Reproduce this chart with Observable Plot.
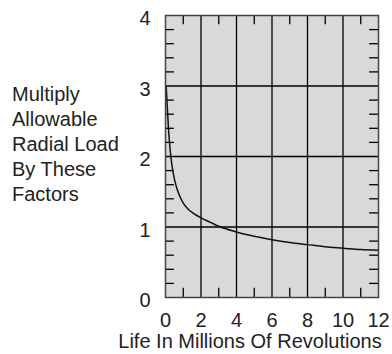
<!DOCTYPE html>
<html>
<head>
<meta charset="utf-8">
<script src="https://cdn.jsdelivr.net/npm/d3@7"></script>
<script src="https://cdn.jsdelivr.net/npm/@observablehq/plot@0.6"></script>
<style>
  html, body { margin: 0; padding: 0; background: #fff; }
  #chart { width: 392px; height: 354px; }
</style>
</head>
<body>
<div id="chart"></div>
<script>
// Data
const life   = [0.04, 0.1, 0.2, 0.3, 0.43, 0.6, 0.8, 1.0, 1.25, 1.6, 2.0, 2.5, 3.0, 4.0, 5.0, 6.0, 7.0, 8.0, 9.0, 10.0, 11.0, 12.0];
const factor = [3.0, 2.7, 2.28, 2.0, 1.77, 1.58, 1.44, 1.34, 1.26, 1.19, 1.13, 1.07, 1.01, 0.93, 0.87, 0.82, 0.78, 0.75, 0.72, 0.70, 0.68, 0.67];
const xTicks = [0, 2, 4, 6, 8, 10, 12];
const yTicks = [0, 1, 2, 3, 4];
const xGrid = [2, 4, 6, 8, 10];
const yGrid = [1, 2, 3];
const xMinor = [1, 3, 5, 7, 9, 11];
const yMinor = [0.2, 0.4, 0.6, 0.8, 1.2, 1.4, 1.6, 1.8, 2.2, 2.4, 2.6, 2.8, 3.2, 3.4, 3.6, 3.8];
const yTitleLines = ["Multiply", "Allowable", "Radial Load", "By These", "Factors"];
const xTitle = "Life In Millions Of Revolutions";

const data = life.map((x, i) => ({x, y: factor[i]}));

const font = "'Liberation Sans', Arial, Helvetica, sans-serif";
const tx = 0.5, ty = 0.13; // minor tick length in data units
const fmt = d3.format("d");

const svg = Plot.plot({
  width: 392,
  height: 354,
  marginLeft: 165,
  marginRight: 14,
  marginTop: 15,
  marginBottom: 57,
  style: {fontFamily: font, fontSize: "20px", color: "#222", background: "#fff", overflow: "visible"},
  x: {domain: [0, 12]},
  y: {domain: [0, 4]},
  marks: [
    Plot.frame({fill: "#d9d9d9"}),
    Plot.ruleX(xGrid, {stroke: "#000", strokeWidth: 1.3}),
    Plot.ruleY(yGrid, {stroke: "#000", strokeWidth: 1.3}),
    Plot.ruleX(xMinor, {y1: 4, y2: 4 - ty, stroke: "#000", strokeWidth: 1.3}),
    Plot.ruleX(xMinor, {y1: 0, y2: ty, stroke: "#000", strokeWidth: 1.3}),
    Plot.ruleY(yMinor, {x1: 0, x2: tx, stroke: "#000", strokeWidth: 1.3}),
    Plot.ruleY(yMinor, {x1: 12, x2: 12 - tx, stroke: "#000", strokeWidth: 1.3}),
    Plot.line(data, {x: "x", y: "y", curve: "monotone-x", stroke: "#111", strokeWidth: 1.5}),
    Plot.frame({stroke: "#444", strokeWidth: 1.5}),
    Plot.axisX(xTicks, {tickSize: 0, tickPadding: 15, fontSize: 20, label: null, tickFormat: fmt}),
    Plot.axisY(yTicks, {tickSize: 0, tickPadding: 15, fontSize: 20, dy: 3.5, label: null, tickFormat: fmt})
  ]
});

const s = d3.select(svg);
const t = s.append("text")
  .attr("font-family", font).attr("font-size", 20).attr("fill", "#222")
  .attr("text-anchor", "start");
yTitleLines.forEach((line, i) => {
  t.append("tspan").attr("x", 12).attr("y", 101 + i * 25).text(line);
});
s.append("text")
  .attr("font-family", font).attr("font-size", 20).attr("fill", "#222")
  .attr("x", 250).attr("y", 348).attr("text-anchor", "middle")
  .text(xTitle);

document.getElementById("chart").appendChild(svg);
</script>
</body>
</html>
